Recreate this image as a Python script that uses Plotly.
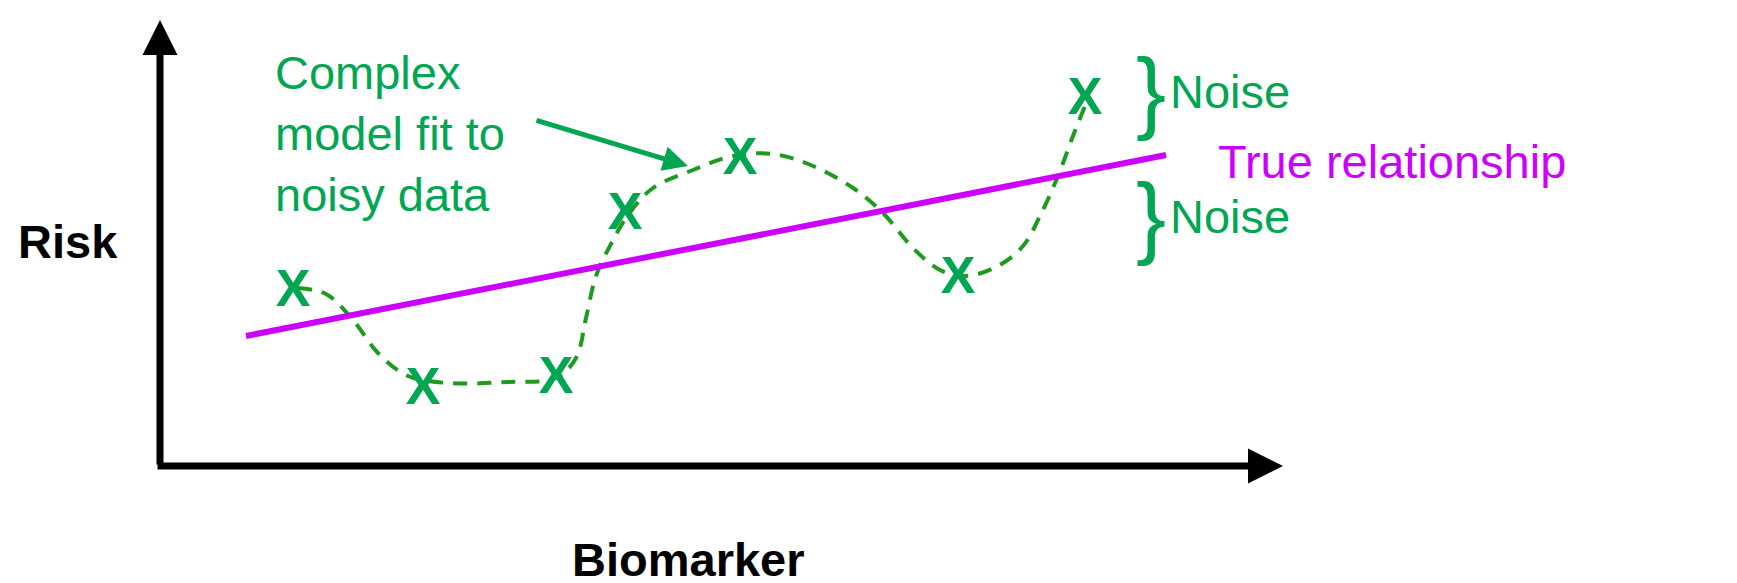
import plotly.graph_objects as go

W, H = 1737, 583
pts_x = [285, 415, 548, 617, 732, 950, 1077]
pts_y = [285, 383, 372, 208, 153, 272, 93]
curve_x = [290, 318, 345, 370, 400, 440, 500, 548, 568, 578, 588, 603, 620, 645, 685, 725, 765, 805, 845, 875, 905, 932, 958, 990, 1015, 1032, 1050, 1065, 1077]
curve_y = [280, 286, 312, 345, 368, 375, 374, 370, 350, 310, 268, 236, 207, 180, 162, 148, 146, 158, 180, 205, 240, 262, 268, 258, 238, 208, 168, 128, 98]
true_x = [238, 1158]
true_y = [328, 147]

G = "#00a651"
DG = "#1e9a1e"
P = "#cc00ff"
F = "Liberation Sans, Arial"
FS = 47

fig = go.Figure()
fig.add_trace(go.Scatter(x=curve_x, y=curve_y, mode="lines", line=dict(color=DG, width=4, dash="14px,10px", shape="spline"), hoverinfo="skip"))
fig.add_trace(go.Scatter(x=true_x, y=true_y, mode="lines", line=dict(color=P, width=6), hoverinfo="skip"))
fig.add_trace(go.Scatter(x=pts_x, y=pts_y, mode="text", text=["<b>X</b>"]*len(pts_x), textfont=dict(color=G, size=52, family=F), hoverinfo="skip"))

ann = []
ann.append(dict(x=152, y=12, ax=152, ay=458, xref="x", yref="y", axref="x", ayref="y", showarrow=True, arrowhead=2, arrowsize=1, arrowwidth=7, arrowcolor="black", text=""))
ann.append(dict(x=1275, y=458, ax=148, ay=458, xref="x", yref="y", axref="x", ayref="y", showarrow=True, arrowhead=2, arrowsize=1, arrowwidth=7, arrowcolor="black", text=""))
ann.append(dict(x=680, y=158, ax=527, ay=112, xref="x", yref="y", axref="x", ayref="y", showarrow=True, arrowhead=2, arrowsize=1, arrowwidth=5, arrowcolor=G, text=""))
ann.append(dict(x=265, y=125, xref="x", yref="y", text="Complex<br>model fit to<br>noisy data", showarrow=False, xanchor="left", yanchor="middle", align="left", font=dict(color=G, size=FS, family=F)))
for yy in [83, 208]:
    ann.append(dict(x=1126, y=yy, xref="x", yref="y", text="}", showarrow=False, xanchor="left", yanchor="middle", font=dict(color=G, size=90, family="DejaVu Sans ExtraLight, Liberation Sans")))
    ann.append(dict(x=1160, y=yy, xref="x", yref="y", text="Noise", showarrow=False, xanchor="left", yanchor="middle", font=dict(color=G, size=FS, family=F)))
ann.append(dict(x=1208, y=153, xref="x", yref="y", text="True relationship", showarrow=False, xanchor="left", yanchor="middle", font=dict(color=P, size=FS, family=F)))
ann.append(dict(x=8, y=233, xref="x", yref="y", text="<b>Risk</b>", showarrow=False, xanchor="left", yanchor="middle", font=dict(color="black", size=FS, family=F)))
ann.append(dict(x=680, y=580, xref="x", yref="y", text="<b>Biomarker</b>", showarrow=False, xanchor="center", yanchor="bottom", font=dict(color="black", size=FS, family=F)))

fig.update_layout(width=W, height=H, margin=dict(l=0, r=0, t=0, b=0), plot_bgcolor="white", paper_bgcolor="white",
                  showlegend=False, annotations=ann,
                  xaxis=dict(range=[0, W], visible=False, fixedrange=True),
                  yaxis=dict(range=[H, 0], visible=False, fixedrange=True))
fig.write_html("out.html")
